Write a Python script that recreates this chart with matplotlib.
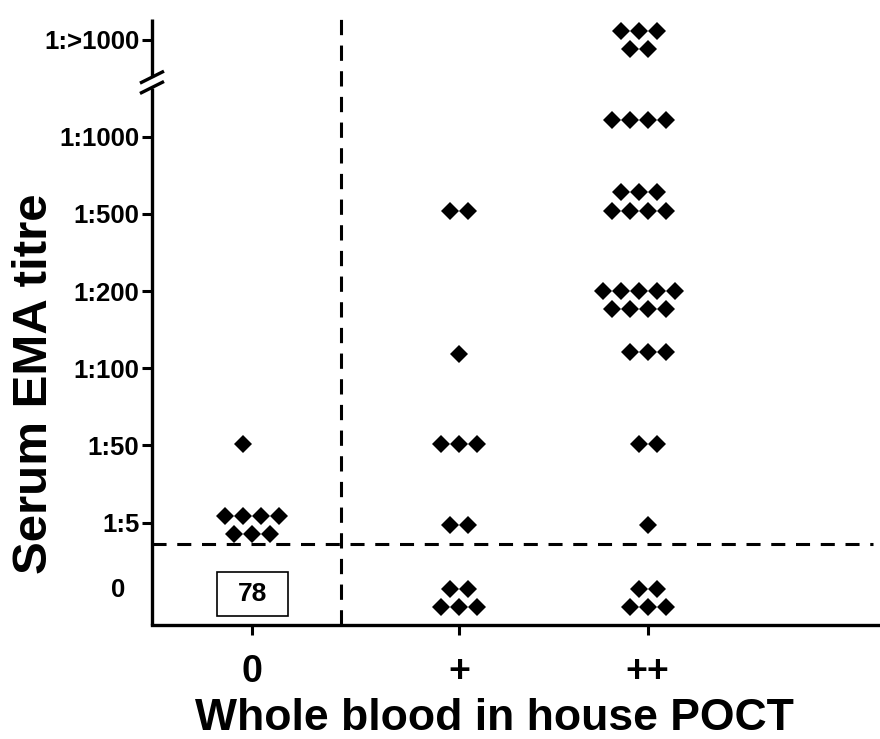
"""Serum EMA titre vs whole blood in-house POCT result (column scatter)."""

import matplotlib
matplotlib.use("Agg")
import matplotlib.pyplot as plt
from matplotlib.patches import Rectangle
import numpy as np

plt.rcParams["font.family"] = ["Liberation Sans", "DejaVu Sans"]
plt.rcParams["font.weight"] = "bold"

# categories
poct_labels = ["0", "+", "++"]
titre_labels = ["0", "1:5", "1:50", "1:100", "1:200", "1:500", "1:1000", "1:>1000"]
titre_ticks = [0.154, 1, 2, 3, 4, 5, 6, 7.253]   # 1:>1000 sits above the axis break

# point rows per POCT group: row level (titre scale), points in row, row shift (in marker steps)
neg_row_y = [2.013, 1.087, 0.854]
neg_row_n = [1, 4, 3]
neg_row_shift = [-0.5, 0, 0]
neg_count_zero = 78          # 0/0 patients, shown as a boxed count

pos_row_y = [5.041, 3.185, 2.013, 0.964, 0.137, -0.096]
pos_row_n = [2, 1, 3, 2, 2, 3]
pos_row_shift = [0, 0, 0, 0, 0, 0]

pp_row_y = [7.369, 7.136, 6.215, 5.283, 5.041, 4.001, 3.764, 3.215, 2.013, 0.964, 0.137, -0.096]
pp_row_n = [3, 2, 4, 3, 4, 5, 4, 3, 2, 1, 2, 3]
pp_row_shift = [-0.5, -0.5, -0.5, -0.5, -0.5, -0.5, -0.5, 0, 0, 0, 0, 0]

# layout
group_x = [0, 1, 1.913]
step = 0.0866                # one diamond width in x units
cutoff_y = 0.724             # positivity cut-off (horizontal dashed)
split_x = 0.429              # 0 vs positive POCT (vertical dashed)
count_y = 0.076
box_w, box_h = 0.344, 0.57   # count box size in data units

fig = plt.figure(figsize=(8.8, 7.39), dpi=100)
ax = fig.add_axes([0.1727, 0.1543, 0.8273, 0.8200])

groups = [
    (neg_row_y, neg_row_n, neg_row_shift),
    (pos_row_y, pos_row_n, pos_row_shift),
    (pp_row_y, pp_row_n, pp_row_shift),
]
for gx, (rows_y, rows_n, rows_s) in zip(group_x, groups):
    for y, n, s in zip(rows_y, rows_n, rows_s):
        xs = gx + (np.arange(n) - (n - 1) / 2 + s) * step
        ax.plot(xs, np.full(n, y), ls="none", marker="D", ms=9.2, mew=0,
                color="black", zorder=3)

ax.text(group_x[0], count_y, str(neg_count_zero), ha="center", va="center",
        fontsize=19, fontweight="bold")
ax.add_patch(Rectangle((group_x[0] - box_w / 2, count_y - box_h / 2), box_w, box_h,
                       fc="none", ec="black", lw=1.2))

ax.axhline(cutoff_y, xmin=0, xmax=0.99, color="black", lw=2.2,
           dashes=(4.6, 3.5), zorder=2)
ax.axvline(split_x, ymin=0, ymax=1.0165, color="black", lw=2.2,
           dashes=(5, 3.4), clip_on=False, zorder=2)

ax.set_xlim(-0.485, 3.037)
ax.set_ylim(-0.325, 7.525)

ax.set_xticks(group_x)
ax.set_xticklabels(poct_labels, fontsize=27, fontweight="bold")
ax.set_yticks(titre_ticks)
ax.set_yticklabels(titre_labels, fontsize=18.5, fontweight="bold")
ax.tick_params(axis="y", length=7, width=2.2, pad=2)
ax.tick_params(axis="x", length=7, width=2.2, pad=14)
zero_tick = ax.yaxis.get_major_ticks()[0]
zero_tick.tick1line.set_visible(False)
zero_tick.set_pad(12)

for side in ["top", "right", "left"]:
    ax.spines[side].set_visible(False)
ax.spines["bottom"].set_linewidth(2.4)

# left spine drawn in two pieces with a break between 1:1000 and 1:>1000
kw = dict(transform=ax.transAxes, color="black", lw=2.4, clip_on=False,
          solid_capstyle="butt")
ax.plot([0, 0], [0, 0.886], **kw)
ax.plot([0, 0], [0.905, 1.0], **kw)
dx, dy = 0.0165, 0.0099
for yc in [0.904, 0.887]:
    ax.plot([-dx, dx], [yc - dy, yc + dy], **kw)

ax.set_ylabel("Serum EMA titre", fontsize=35.5, fontweight="bold")
ax.yaxis.set_label_coords(-0.131, 0.398)
ax.set_xlabel("Whole blood in house POCT", fontsize=32, fontweight="bold")
ax.xaxis.set_label_coords(0.471, -0.121)

fig.savefig("out.png", dpi=100)
plt.close(fig)
